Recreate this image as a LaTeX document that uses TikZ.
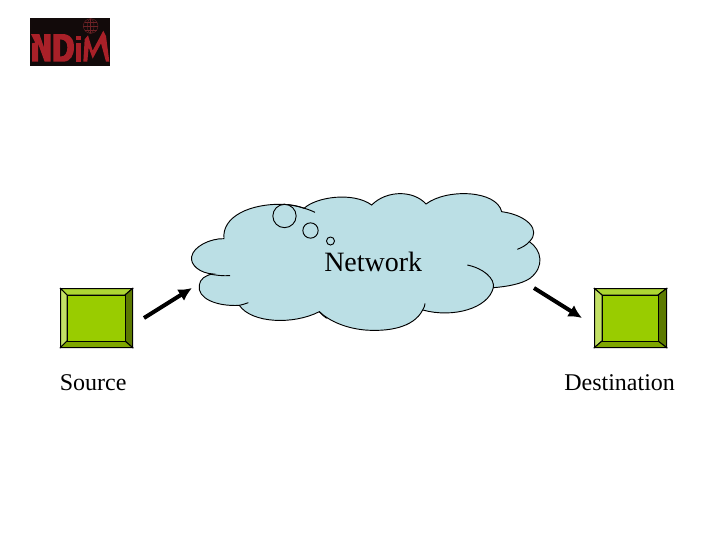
\documentclass[tikz,border=0pt]{standalone}
\usepackage{fontspec}
\setmainfont{Liberation Serif}
\usetikzlibrary{arrows.meta}
\definecolor{cloudc}{HTML}{BBDFE5}
\definecolor{logored}{HTML}{A82028}
\definecolor{logoglobe}{HTML}{6E2226}
\definecolor{logobg}{HTML}{120A0A}
\definecolor{bc}{HTML}{99CC00}
\definecolor{bt}{HTML}{ADD633}
\definecolor{bl}{HTML}{C2E066}
\definecolor{br}{HTML}{5C7A00}
\definecolor{bb}{HTML}{7FA600}
\tikzset{
  lbl/.style={inner sep=0pt,anchor=base west,font=\fontsize{18pt}{20pt}\selectfont},
  facet/.style={draw=black,line width=.75pt,line join=miter},
  flow/.style={line width=3pt,-{Latex[length=10pt,width=10pt]}},
  cloudline/.style={draw=black,line width=.7pt},
  thought/.style={draw=black,line width=.7pt,circle,inner sep=0pt},
  logo/.style={fill=logored,draw=none},
  boxnode/.style={inner sep=0pt,draw=black,line width=.75pt,fill=bc}
}
\begin{document}
\begin{tikzpicture}[x=.75pt,y=-.75pt]
\useasboundingbox (0,0) rectangle (720,540);
\fill[white] (0,0) rectangle (720,540);
% logo
\fill[logobg] (30,18) rectangle (110,66);
\begin{scope}[shift={(20,10)},x=.25pt,y=-.25pt]
  \fill[logo] (33,72) -- (58,72) -- (72,112) -- (72,72) -- (92,72) -- (92,155) -- (74,155) -- (54,100) -- (54,155) -- (36,155) -- (36,100) -- (46,98) -- cycle;
  \fill[logo,even odd rule] (100,72) -- (132,72) .. controls (158,76) and (162,95) .. (162,112) .. controls (162,135) and (152,155) .. (130,155) -- (100,155) -- cycle (120,88) -- (120,140) .. controls (138,140) and (142,125) .. (142,112) .. controls (142,98) and (136,88) .. (120,88) -- cycle;
  \fill[logo] (168,98) -- (182,98) -- (182,155) -- (168,155) -- cycle;
  \fill[logo] (168,78) -- (182,78) -- (182,90) -- (168,90) -- cycle;
  \fill[logo] (190,155) -- (194,88) -- (204,76) -- (218,122) -- (250,62) -- (258,78) -- (268,155) -- (258,155) -- (243,100) -- (218,146) -- (206,112) -- (202,155) -- cycle;
  \draw[logoglobe,line width=.3pt] (212,48) circle (22);
  \draw[logoglobe,line width=.3pt] (212,48) ellipse (10 and 22);
  \draw[logoglobe,line width=.3pt] (190,48) -- (234,48) (194,36) -- (230,36) (194,60) -- (230,60) (212,26) -- (212,70);
\end{scope}
% cloud
\begin{scope}[shift={(180,180)},x=.25pt,y=-.25pt]
  \path[fill=cloudc,cloudline] (132,176)
    .. controls (125,110) and (210,70) .. (310,73)
    .. controls (335,74) and (355,78) .. (372,85)
    .. controls (410,50) and (520,35) .. (575,75)
    .. controls (620,30) and (700,30) .. (738,72)
    .. controls (800,25) and (950,30) .. (965,95)
    .. controls (1040,105) and (1085,150) .. (1048,185)
    .. controls (1085,210) and (1095,260) .. (1050,295)
    .. controls (1025,312) and (980,320) .. (940,323)
    .. controls (925,385) and (820,415) .. (728,390)
    .. controls (700,445) and (620,455) .. (555,450)
    .. controls (500,445) and (450,425) .. (418,395)
    .. controls (340,435) and (215,430) .. (178,376)
    .. controls (110,380) and (50,355) .. (58,315)
    .. controls (60,298) and (75,285) .. (100,282)
    .. controls (60,280) and (30,255) .. (35,230)
    .. controls (40,200) and (90,175) .. (132,176) -- cycle;
  \path[cloudline] (310,73) .. controls (345,75) and (380,85) .. (405,97);
  \path[cloudline] (1048,185) .. controls (1040,195) and (1025,203) .. (1012,208);
  \path[cloudline] (862,255) .. controls (910,265) and (945,295) .. (940,323);
  \path[cloudline] (728,390) .. controls (732,382) and (735,378) .. (735,370);
  \path[cloudline] (418,395) .. controls (425,403) and (432,410) .. (440,415);
  \path[cloudline] (178,376) .. controls (188,374) and (197,371) .. (205,368);
  \path[cloudline] (85,281) .. controls (105,286) and (128,288) .. (150,287);
\end{scope}
\node[thought,minimum size=17.5pt,fill=cloudc] (t1) at (284.5,216) {};
\node[thought,minimum size=11.5pt,fill=cloudc] (t2) at (310.5,230.5) {};
\node[thought,minimum size=6pt,fill=cloudc] (t3) at (330.5,241) {};
\node[lbl,font=\fontsize{21pt}{23pt}\selectfont] (net) at (324,271) {Network};
% left box
\fill[bc] (60.5,288.5) rectangle (132.5,347.5);
\path[facet,fill=bt] (60.5,288.5) -- (132.5,288.5) -- (125,295) -- (67,295) -- cycle;
\path[facet,fill=bl] (60.5,288.5) -- (67,295) -- (67,341) -- (60.5,347.5) -- cycle;
\path[facet,fill=br] (132.5,288.5) -- (125,295) -- (125,341) -- (132.5,347.5) -- cycle;
\path[facet,fill=bb] (60.5,347.5) -- (67,341) -- (125,341) -- (132.5,347.5) -- cycle;
\node[boxnode,minimum width=43.5pt,minimum height=34.5pt] (src) at (96,318) {};
% right box
\fill[bc] (594.5,288.5) rectangle (666.5,347.5);
\path[facet,fill=bt] (594.5,288.5) -- (666.5,288.5) -- (658,295) -- (602,295) -- cycle;
\path[facet,fill=bl] (594.5,288.5) -- (602,295) -- (602,341) -- (594.5,347.5) -- cycle;
\path[facet,fill=br] (666.5,288.5) -- (658,295) -- (658,341) -- (666.5,347.5) -- cycle;
\path[facet,fill=bb] (594.5,347.5) -- (602,341) -- (658,341) -- (666.5,347.5) -- cycle;
\node[boxnode,minimum width=42pt,minimum height=34.5pt] (dst) at (630,318) {};
% arrows
\coordinate (a1s) at (144,318);
\coordinate (a1e) at (192,288);
\coordinate (a2s) at (534,288);
\coordinate (a2e) at (582,318);
\draw[flow] (a1s) -- (a1e);
\draw[flow] (a2s) -- (a2e);
\node[lbl] (slab) at (59.5,390) {Source};
\node[lbl] (dlab) at (564,390) {Destination};
\end{tikzpicture}
\end{document}
